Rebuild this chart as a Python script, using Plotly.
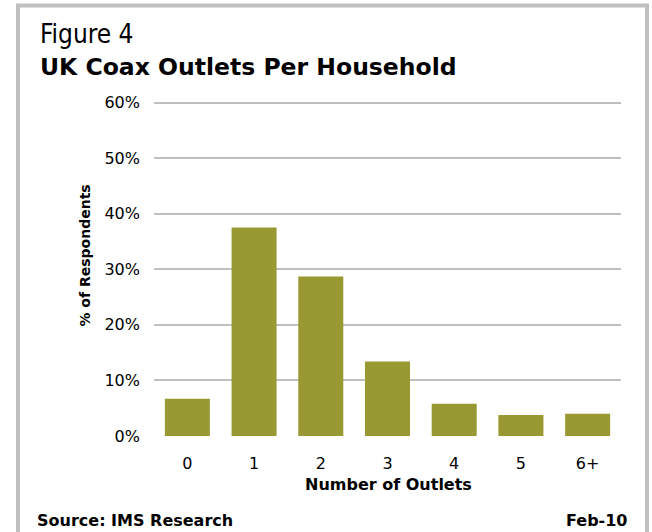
import plotly.graph_objects as go

categories = ["0", "1", "2", "3", "4", "5", "6+"]
values = [0.067, 0.375, 0.287, 0.134, 0.058, 0.038, 0.040]
y_ticks = [0, 0.1, 0.2, 0.3, 0.4, 0.5, 0.6]

W, H = 652, 532
Y_MAX = 0.61
L, R, B = 154, 621, 436.5
TOP_TICK_Y = 103.0
T = B - (B - TOP_TICK_Y) * Y_MAX / 0.6
PW, PH = R - L, B - T

def px(x):
    return (x - L) / PW

def py(y):
    return (B - y) / PH

FONT = "DejaVu Sans, sans-serif"
FONT_C = "DejaVu Sans Condensed, DejaVu Sans, sans-serif"

fig = go.Figure(go.Bar(
    x=categories, y=values,
    marker=dict(color="#999933", line=dict(width=0)),
    width=0.675,
))

fig.update_layout(
    width=W, height=H,
    margin=dict(l=L, r=W - R, t=T, b=H - B, pad=0),
    paper_bgcolor="white", plot_bgcolor="white",
    showlegend=False,
    font=dict(family=FONT, color="black"),
    xaxis=dict(
        showgrid=False, showline=False, zeroline=False,
        ticks="", tickfont=dict(size=16, family=FONT, color="black"),
        ticklabelstandoff=16,
    ),
    yaxis=dict(
        range=[0, Y_MAX], tickvals=y_ticks, tickformat=".0%",
        showgrid=True, gridcolor="#BFBFBF", gridwidth=2,
        zeroline=False, showline=False,
        ticks="", ticklabelstandoff=13,
        tickfont=dict(size=16, family=FONT, color="black"),
    ),
    shapes=[dict(
        type="rect", xref="paper", yref="paper",
        x0=px(18), x1=px(647), y0=py(6), y1=py(545),
        line=dict(color="#C0C0C0", width=4), fillcolor="rgba(0,0,0,0)", layer="below",
    )],
    annotations=[
        dict(text="Figure 4", xref="paper", yref="paper", x=px(38), y=py(34),
             xanchor="left", yanchor="middle", showarrow=False,
             font=dict(size=26, family=FONT_C)),
        dict(text="<b>UK Coax Outlets Per Household</b>", xref="paper", yref="paper",
             x=px(38), y=py(67), xanchor="left", yanchor="middle", showarrow=False,
             font=dict(size=23.5, family=FONT)),
        dict(text="<b>% of Respondents</b>", xref="paper", yref="paper",
             x=px(85), y=py(256), xanchor="center", yanchor="middle", showarrow=False,
             textangle=-90, font=dict(size=14, family=FONT)),
        dict(text="<b>Number of Outlets</b>", xref="paper", yref="paper",
             x=px(388), y=py(485), xanchor="center", yanchor="middle", showarrow=False,
             font=dict(size=16, family=FONT)),
        dict(text="<b>Source: IMS Research</b>", xref="paper", yref="paper",
             x=px(35), y=py(521), xanchor="left", yanchor="middle", showarrow=False,
             font=dict(size=16, family=FONT)),
        dict(text="<b>Feb-10</b>", xref="paper", yref="paper",
             x=px(630), y=py(521), xanchor="right", yanchor="middle", showarrow=False,
             font=dict(size=16, family=FONT)),
    ],
)

fig.write_html(
    "out.html",
    config={"displayModeBar": False},
    post_script="document.body.style.margin='0';document.body.style.overflow='hidden';",
)
